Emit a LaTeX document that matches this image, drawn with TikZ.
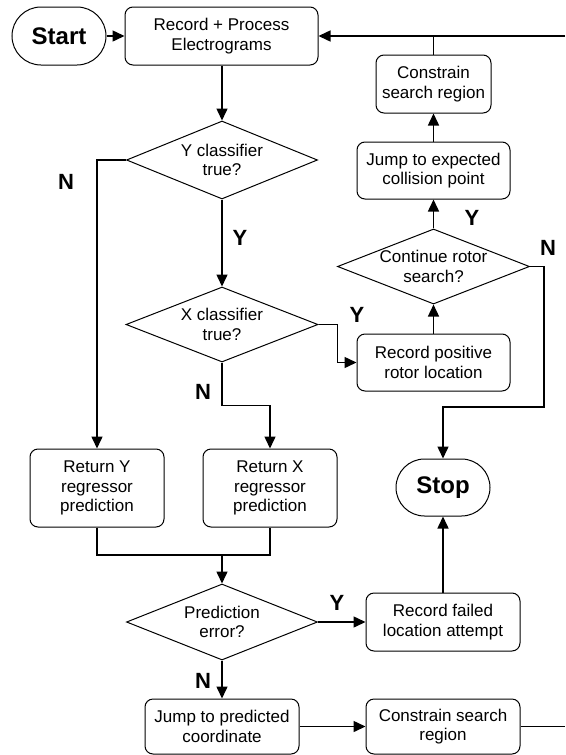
\documentclass[tikz,border=0pt]{standalone}
\usepackage{fontspec}
\setmainfont{Liberation Sans}
\usetikzlibrary{shapes.geometric,shapes.misc,arrows.meta}
\tikzset{
  box/.style={draw, line width=1pt, rounded corners=8pt, align=center, inner sep=0pt,
    font=\fontsize{17}{19.5}\selectfont},
  term/.style={draw, line width=1pt, rounded rectangle, inner sep=0pt,
    minimum width=94pt, minimum height=58pt, font=\fontsize{24}{28}\selectfont\bfseries},
  dia/.style={draw, line width=1pt, diamond, aspect=2.5, inner sep=0pt, align=center,
    font=\fontsize{17}{19.5}\selectfont},
  conn/.style={line width=1.5pt},
  arr/.style={line width=1.5pt, -{Triangle[length=12pt,width=11pt]}},
  yn/.style={font=\fontsize{22}{24}\selectfont\bfseries, inner sep=0pt}
}
\begin{document}
\begin{tikzpicture}[x=1pt,y=-1pt]
\useasboundingbox (0,0) rectangle (565,755);
\fill[white] (0,0) rectangle (565,755);

% nodes
\node[term] (start) at (59,36) {Start};
\node[box, minimum width=193pt, minimum height=58pt] (rec) at (221.5,36) {Record + Process\\Electrograms};
\node[dia, minimum width=191pt, minimum height=78pt] (ycl) at (222,160) {Y classifier\\true?};
\node[dia, minimum width=192pt, minimum height=75pt] (xcl) at (222,324.5) {X classifier\\true?};
\node[box, minimum width=134pt, minimum height=78pt] (rety) at (97,488) {Return Y\\regressor\\prediction};
\node[box, minimum width=134pt, minimum height=78pt] (retx) at (270,488) {Return X\\regressor\\prediction};
\node[dia, minimum width=191pt, minimum height=76pt] (pred) at (222,622) {Prediction\\error?};
\node[box, minimum width=154pt, minimum height=55pt] (jmpp) at (222,726.5) {Jump to predicted\\coordinate};
\node[box, minimum width=154pt, minimum height=55pt] (cons2) at (443,726.5) {Constrain search\\region};
\node[box, minimum width=154pt, minimum height=58pt] (recf) at (443,622) {Record failed\\location attempt};
\node[term, minimum height=57pt] (stop) at (443,487.5) {Stop};
\node[box, minimum width=153pt, minimum height=57pt] (recp) at (433.5,362.5) {Record positive\\rotor location};
\node[dia, minimum width=192pt, minimum height=75pt] (cont) at (433.5,266.5) {Continue rotor\\search?};
\node[box, minimum width=153pt, minimum height=57pt] (jmpe) at (433.5,170.5) {Jump to expected\\collision point};
\node[box, minimum width=115pt, minimum height=58pt] (cons1) at (433.5,84) {Constrain\\search region};

% helper coordinates
\coordinate (e1) at (565,36);
\coordinate (j1) at (433.5,36);
\coordinate (e2) at (565,726.5);
\coordinate (m) at (222,555);
\coordinate (c3) at (544,407);

% labels
\node[yn] (l1) at (66,182) {N};
\node[yn] (l2) at (240,238) {Y};
\node[yn] (l3) at (203,392) {N};
\node[yn] (l4) at (357,315) {Y};
\node[yn] (l5) at (472,218) {Y};
\node[yn] (l6) at (548,248) {N};
\node[yn] (l7) at (337,603) {Y};
\node[yn] (l8) at (203,681) {N};

% connectors
\draw[arr] (start.east) -- (rec.west);
\draw[arr] (ycl.north |- rec.south) -- (ycl.north);
\draw[arr] (ycl.west) -| (rety.north);
\draw[arr] (ycl.south) -- (xcl.north);
\draw[arr] (xcl.east) -- ++(19,0) |- (recp.west);
\draw[arr] (xcl.south) -- ++(0,43) -| (retx.north);
\draw[conn] (rety.south) |- (m) -| (retx.south);
\draw[arr] (m) -- (pred.north);
\draw[arr] (pred.east) -- (recf.west);
\draw[arr] (pred.south) -- (jmpp.north);
\draw[arr] (jmpp.east) -- (cons2.west);
\draw[conn] (cons2.east) -- (e2);
\draw[arr] (recf.north) -- (stop.south);
\draw[arr] (recp.north) -- (cont.south);
\draw[arr] (cont.north) -- (jmpe.south);
\draw[arr] (jmpe.north) -- (cons1.south);
\draw[conn] (cons1.north) -- (j1);
\draw[arr] (e1) -- (rec.east);
\draw[arr] (cont.east) -| (c3) -| (stop.north);
\end{tikzpicture}
\end{document}
